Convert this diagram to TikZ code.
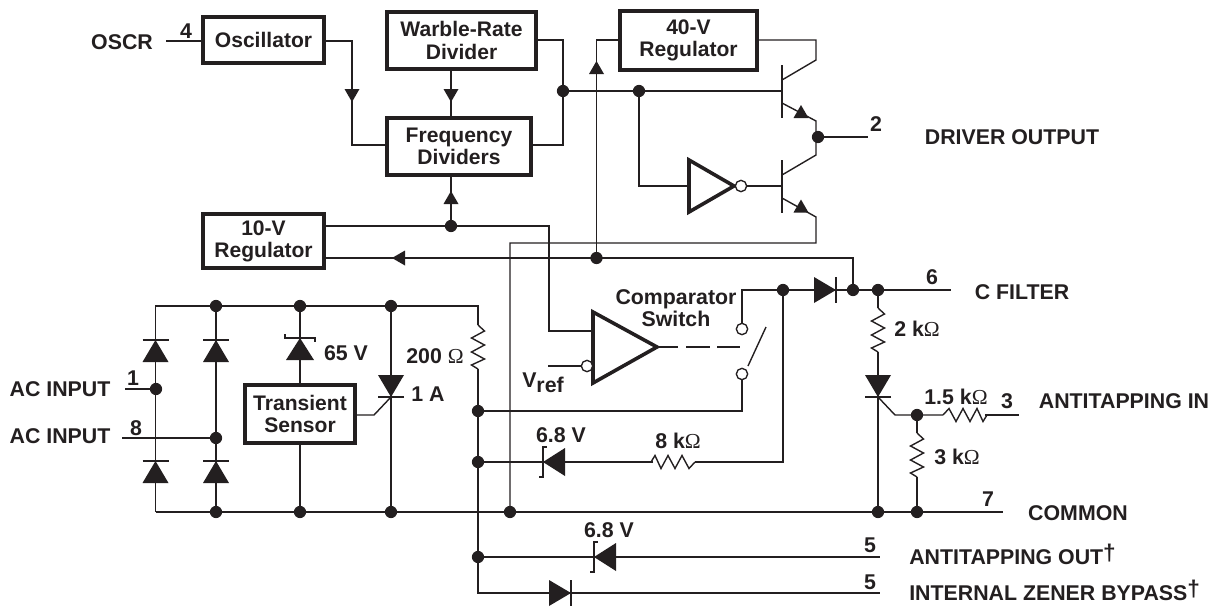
\documentclass[tikz,border=0pt]{standalone}
\usepackage{fontspec}
\setmainfont{Liberation Sans}[BoldFont={Liberation Sans Bold}]
\newfontfamily\omfont{Liberation Serif}
\newcommand{\Om}{{\omfont\mdseries Ω}}
\newcommand{\dg}{\raisebox{2.5pt}{\fontsize{17}{17}\selectfont †}}
\definecolor{ink}{HTML}{231F20}
\tikzset{
  wire/.style={draw=ink,line width=1.05pt,line join=miter},
  blockbox/.style={draw=ink,line width=2.7pt,fill=white,inner sep=0pt,align=center,font=\bfseries\fontsize{15.8}{16.6}\selectfont,text=ink},
  lbl/.style={inner sep=0pt,text=ink,font=\bfseries\fontsize{16}{16.6}\selectfont,align=center},
  lblw/.style={lbl,anchor=base west},
  dot/.style={circle,fill=ink,draw=none,inner sep=0pt,minimum size=9.2pt},
  bubble/.style={circle,draw=ink,line width=1pt,fill=white,inner sep=0pt,minimum size=8.5pt},
  gate/.style={draw=ink,line width=2.7pt,fill=white,line join=miter},
  pics/diode/.style={code={
    \fill[ink] (0,0) -- (13,22) -- (-13,22) -- cycle;
    \draw[wire] (-13,0) -- (13,0);}},
  pics/zener/.style={code={
    \fill[ink] (0,0) -- (14,22) -- (-14,22) -- cycle;
    \draw[wire] (-15,-4) -- (-15,0) -- (15,0) -- (15,4);}},
  pics/head/.style={code={
    \fill[ink] (0,0) -- (7.5,13) -- (-7.5,13) -- cycle;}},
  pics/res/.style={code={
    \draw[wire] (0,0) -- (6.5,6) -- (-6.5,13) -- (6.5,20) -- (-6.5,27) -- (6.5,34) -- (-6.5,40) -- (0,44);}},
}
\begin{document}
\begin{tikzpicture}[x=0.75pt,y=-0.75pt]
\useasboundingbox (0,0) rectangle (1215,608);
% blocks
\node[blockbox,minimum width=91pt,minimum height=34.8pt] (osc) at (263.5,40) {Oscillator};
\node[blockbox,minimum width=112pt,minimum height=43pt] (warble) at (461.5,40.5) {Warble-Rate\\Divider};
\node[blockbox,minimum width=108.3pt,minimum height=43pt] (freq) at (459,146.5) {Frequency\\Dividers};
\node[blockbox,minimum width=103pt,minimum height=44.5pt] (regF) at (688.5,40.5) {40-V\\Regulator};
\node[blockbox,minimum width=91pt,minimum height=40.8pt] (regT) at (263.5,241) {10-V\\Regulator};
\node[blockbox,minimum width=82.8pt,minimum height=43.8pt] (sensor) at (300,414) {Transient\\Sensor};
% junctions
\foreach \n/\x/\y in {jA/563/91,jB/639/91,jOut/818/137,jC/451/226,jD/596.5/258,
  jE/216/306,jF/300/306,jG/391/306,jH/216/512,jI/300/512,jJ/391/512,jK/510/512,jL/878/512,jM/917/512,
  jN/156/389,jO/216/438,jP/783/290,jQ/853/290,jR/878/290,jS/478/411,jT/478/462,jU/478/557,jV/917/415}
  \coordinate (\n) at (\x,\y);
% free coordinates
\foreach \n/\x/\y in {pOsc/166/41,tlA/155.5/306,blA/155.5/512,trA/478/306,endCom/1003/512,
  endDrv/868/137,endCF/951/290,acA/125/389,acB/122/438,inAT/1019/415,endAO/880/557,endBy/880/593,botV/478/593,
  npnATop/816/60,npnABar/782/80,npnAEm/782/103,npnAOut/816/121,npnBCol/816/155,npnBBar/782/175,npnBBase/782/186,npnBEm/782/198,npnBOut/816/217,
  retR/816/243,vrefL/548/366,sw1/742/329,sw2/742/374}
  \coordinate (\n) at (\x,\y);
% inverter and comparator
\coordinate (invA) at (689,160); \coordinate (invB) at (689,212); \coordinate (invC) at (734,186);
\coordinate (cmpA) at (593,312); \coordinate (cmpB) at (593,383); \coordinate (cmpC) at (657,347);
% wires
\draw[wire] (pOsc) -- (osc.west |- pOsc);
\draw[wire] (osc.east |- pOsc) -| (352,145) -- (freq.west |- 352,145);
\draw[wire] (warble.east |- 0,40) -| (jA) |- (freq.east |- 0,145);
\draw[wire] (warble.south -| 451,0) -- (freq.north -| 451,0);
\draw[wire] (jA) -- (jB) -- (npnAEm |- jA);
\draw[wire] (jB) |- (invA |- invC);
\draw[wire] (regF.west |- 0,40) -| (jD);
\draw[wire] (regF.east |- 0,40) -| (npnATop) -- (npnABar);
\draw[wire] (782,65) -- (782,118);
\draw[wire] (npnAEm) -- (npnAOut) -- (npnBCol) -- (npnBBar);
\draw[wire] (782,160) -- (782,213);
\draw[wire] (npnBEm) -- (npnBOut) -- (retR) -| (jK);
\draw[wire] (jOut) -- (endDrv);
\draw[wire] (npnBBase) -- (invC);
\draw[wire] (freq.south -| jC) -- (jC);
\draw[wire] (regT.east |- jC) -- (549,226) -- (549,331) -- (cmpA |- 0,331);
\draw[wire] (regT.east |- jD) -- (jD) -| (jQ);
\draw[wire] (vrefL) -- (cmpB |- vrefL);
\draw[wire] (cmpC) -- (678,347) (686,347) -- (710,347) (717,347) -- (740,347);
\draw[wire] (jP) -| (sw1);
\draw[wire] (sw2) |- (jS);
\draw[wire] (748,366) -- (766,327);
\draw[wire] (jP) -- (jR) -- (endCF);
\draw[wire] (jP) |- (695,462);
\draw[wire] (653,462) -- (jT);
% power rails
\draw[wire] (blA) -- (tlA) -- (trA) -- (478,325);
\draw[wire] (478,369) -- (jS) -- (jT) -- (jU) -- (botV) -- (endBy);
\draw[wire] (blA) -- (endCom);
\draw[wire] (jU) -- (endAO);
\draw[wire] (acA) -- (jN);
\draw[wire] (acB) -- (jO);
\draw[wire] (jE) -- (jH);
\draw[wire] (jF) -- (sensor.north -| jF);
\draw[wire] (sensor.south -| jF) -- (jI);
\draw[wire] (jG) -- (jJ);
\draw[wire] (sensor.east |- 0,415) -- (374,415) -- (391,397);
% right branch
\draw[wire] (jR) -- (878,308);
\draw[wire] (878,352) -- (jL);
\draw[wire] (878,397) -- (895,415) -- (jV) -- (943,415);
\draw[wire] (985,415) -- (inAT);
\draw[wire] (jV) -- (917,433);
\draw[wire] (917,477) -- (jM);
% gates
\draw[gate] (invA) -- (invB) -- (invC) -- cycle;
\draw[gate] (cmpA) -- (cmpB) -- (cmpC) -- cycle;
% bubbles
\node[bubble] (bInv) at (741,186) {};
\node[bubble] (bCmp) at (587,366) {};
\node[bubble] (bSw1) at (sw1) {};
\node[bubble] (bSw2) at (sw2) {};
% dots
\foreach \n in {jA,jB,jOut,jC,jD,jE,jF,jG,jH,jI,jJ,jK,jL,jM,jN,jO,jP,jQ,jR,jS,jT,jU,jV}
  \node[dot] at (\n) {};
% arrowheads
\pic at (352,102) [rotate=180] {head};
\pic at (451,102) [rotate=180] {head};
\pic at (451,191) {head};
\pic at (596.5,61) {head};
\pic at (392,258) [rotate=90] {head};
\pic at (801,105) {head};
\pic at (801,199.5) {head};
% diodes
\pic at (155.5,340) {diode};
\pic at (216,340) {diode};
\pic at (155.5,461) {diode};
\pic at (216,461) {diode};
\pic at (391,397) [rotate=180] {diode};
\pic at (878,397) [rotate=180] {diode};
\pic at (836,290) [rotate=-90] {diode};
\pic at (571,593) [rotate=-90] {diode};
\pic at (300,338) {zener};
\pic at (543,462) [rotate=90] {zener};
\pic at (594,557) [rotate=90] {zener};
% resistors
\pic at (478,325) {res};
\pic at (878,308) {res};
\pic at (917,433) {res};
\pic at (695,462) [rotate=-90] {res};
\pic at (943,415) [rotate=90] {res};
% labels
\node[lbl] (tOscr) at (122,42) {OSCR};
\node[lbl] (t4) at (186,31) {4};
\node[lbl] (t2) at (876,124) {2};
\node[lbl] (tDrv) at (1012,137) {DRIVER OUTPUT};
\node[lbl] (t6) at (932,277) {6};
\node[lbl] (tCF) at (1022,292) {C FILTER};
\node[lbl] (tAC1) at (60,389) {AC INPUT};
\node[lbl] (tAC2) at (60,436) {AC INPUT};
\node[lbl] (t1) at (133,378) {1};
\node[lbl] (t8) at (136,428) {8};
\node[lbl] (t65) at (346,353) {65 V};
\node[lbl] (t1A) at (428,394) {1 A};
\node[lbl] (t200) at (435,356) {200 \Om};
\node[lbl] (tCS) at (676,308) {Comparator\\Switch};
\node[lbl] (tVref) at (543,383) {V\raisebox{-4pt}{ref}};
\node[lbl] (tZa) at (561,435) {6.8 V};
\node[lbl] (tEk) at (678,441) {8 k\Om};
\node[lbl] (tTk) at (894,329) [anchor=west] {2 k\Om};
\node[lbl] (tOk) at (956,397) {1.5 k\Om};
\node[lbl] (t3) at (1007,401) {3};
\node[lbl] (tAI) at (1124,401) {ANTITAPPING IN};
\node[lbl] (tThk) at (957,457) {3 k\Om};
\node[lbl] (t7) at (988,499) {7};
\node[lbl] (tCom) at (1078,513) {COMMON};
\node[lbl] (tZb) at (609,530) {6.8 V};
\node[lbl] (t5a) at (870,545) {5};
\node[lbl] (t5b) at (870,582) {5};
\node[lblw] (tAO) at (909,564) {ANTITAPPING OUT\dg};
\node[lblw] (tIZ) at (909,600) {INTERNAL ZENER BYPASS\dg};
\end{tikzpicture}
\end{document}
